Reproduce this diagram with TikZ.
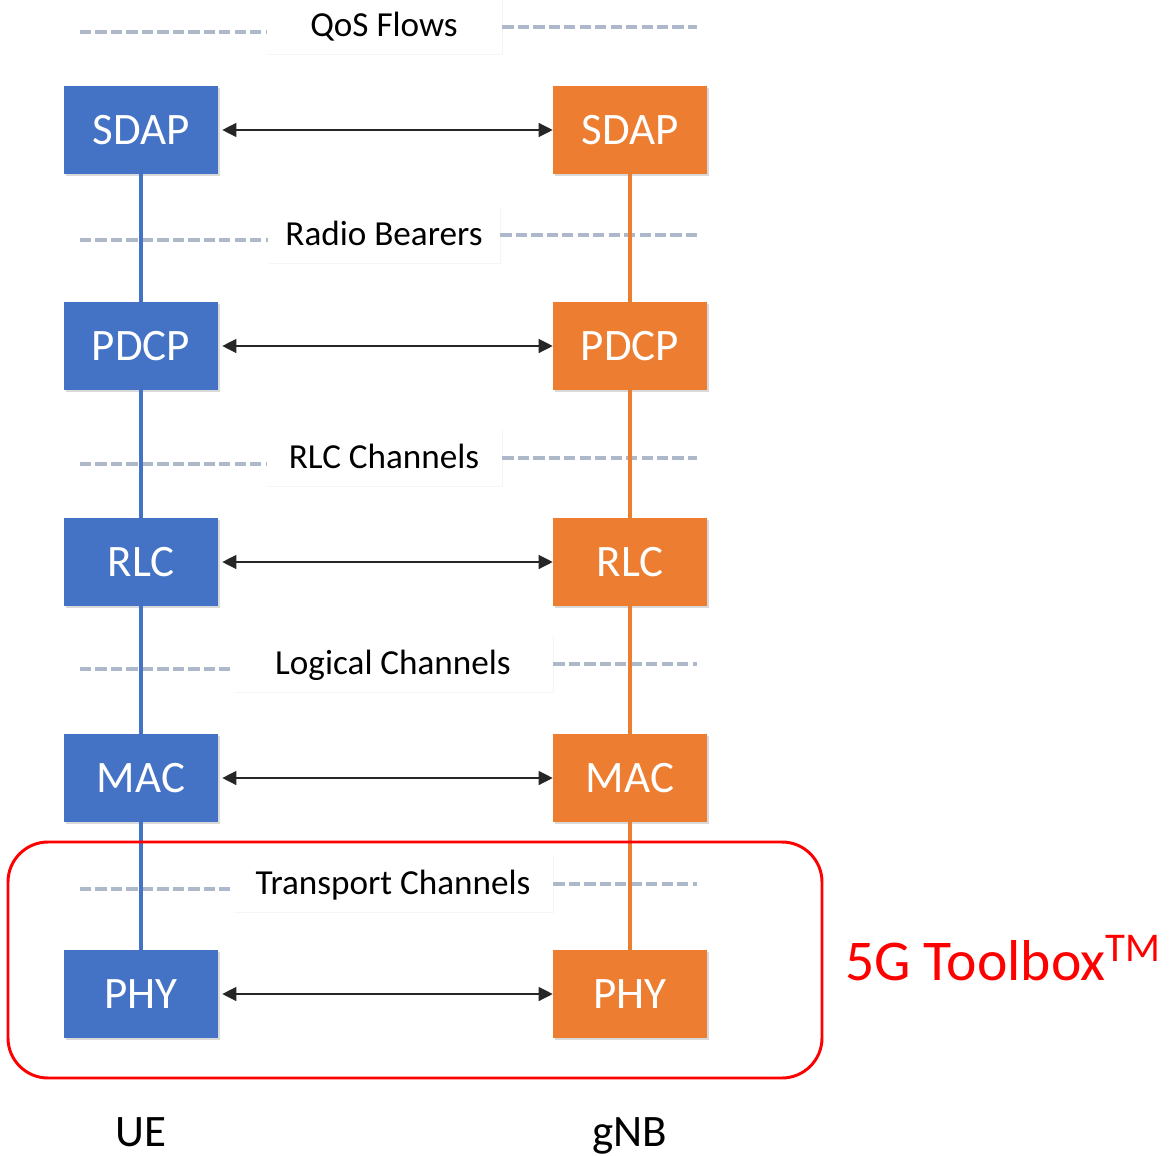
\documentclass[tikz,border=0pt]{standalone}
\usepackage{fontspec}
\setmainfont{Carlito}
\usetikzlibrary{arrows.meta,shadows}
\definecolor{ueblue}{HTML}{4472C4}
\definecolor{gnborange}{HTML}{ED7D31}
\definecolor{dashgray}{HTML}{ADB9CA}
\definecolor{tbred}{HTML}{FF0000}
\tikzset{
  layerbox/.style={minimum width=3.85cm, minimum height=2.2cm, inner sep=0pt,
    text=white, text height=20.6pt, text depth=0pt,
    font=\fontsize{32}{36}\selectfont,
    drop shadow={shadow xshift=1.6pt, shadow yshift=-1.6pt, opacity=0.3}},
  uebox/.style={layerbox, fill=ueblue},
  gnbbox/.style={layerbox, fill=gnborange},
  chanlabel/.style={fill=white, minimum height=1.425cm, inner sep=0pt,
    text height=16pt, text depth=0pt, font=\fontsize{25}{30}\selectfont,
    drop shadow={shadow xshift=0.8pt, shadow yshift=-0.8pt, opacity=0.08}},
  chandash/.style={dashgray, line width=2.6pt, dash pattern=on 8pt off 3pt},
  stackline/.style={line width=3pt},
  peer/.style={black!85, line width=0.9pt,
    {Triangle[length=10pt,width=10pt]}-{Triangle[length=10pt,width=10pt]}},
  sidelabel/.style={font=\fontsize{32}{36}\selectfont, anchor=base},
}
\begin{document}
\begin{tikzpicture}[x=0.025cm,y=-0.025cm]
\useasboundingbox (0,0) rectangle (1176,1156);
% channels between the layers
\foreach \n/\x/\y/\w/\t/\yl/\yr in {qos/384/25/5.9/QoS Flows/32/27,
    rb/384/234/5.8/Radio Bearers/240/235,
    rlcch/384/457/5.9/RLC Channels/464/458,
    logch/393/663/8.0/Logical Channels/669/664,
    trch/393/883/8.0/Transport Channels/889/884}
{
  \coordinate (\n-l) at (80,\yl);
  \coordinate (\n-r) at (697,\yr);
  \node[chanlabel, minimum width=\w cm] (\n) at (\x,\y) {\t};
  \draw[chandash] (\n-l) -- (\n.west |- \n-l);
  \draw[chandash] (\n.east |- \n-r) -- (\n-r);
}
% protocol stacks
\foreach \n/\y in {SDAP/130,PDCP/346,RLC/562,MAC/778,PHY/994}
{
  \node[uebox] (ue\n) at (141,\y) {\n};
  \node[gnbbox] (gnb\n) at (630,\y) {\n};
  \draw[peer, shorten <=0.1cm] (ue\n.east) -- (gnb\n.west);
}
\foreach \a/\b in {SDAP/PDCP,PDCP/RLC,RLC/MAC,MAC/PHY}
{
  \draw[stackline, ueblue] (ue\a) -- (ue\b);
  \draw[stackline, gnborange] (gnb\a) -- (gnb\b);
}
% toolbox scope
\draw[tbred, line width=2.1pt, rounded corners=1cm] (8,842) rectangle (822,1078);
\node[tbred, anchor=west, inner sep=0pt, font=\fontsize{41}{46}\selectfont] (toolbox) at (845,958)
  {5G Toolbox\raisebox{0.33em}{\fontsize{29}{30}\selectfont TM}};
\node[sidelabel] (ue) at (141,1146) {UE};
\node[sidelabel] (gnb) at (630,1146) {gNB};
\end{tikzpicture}
\end{document}
